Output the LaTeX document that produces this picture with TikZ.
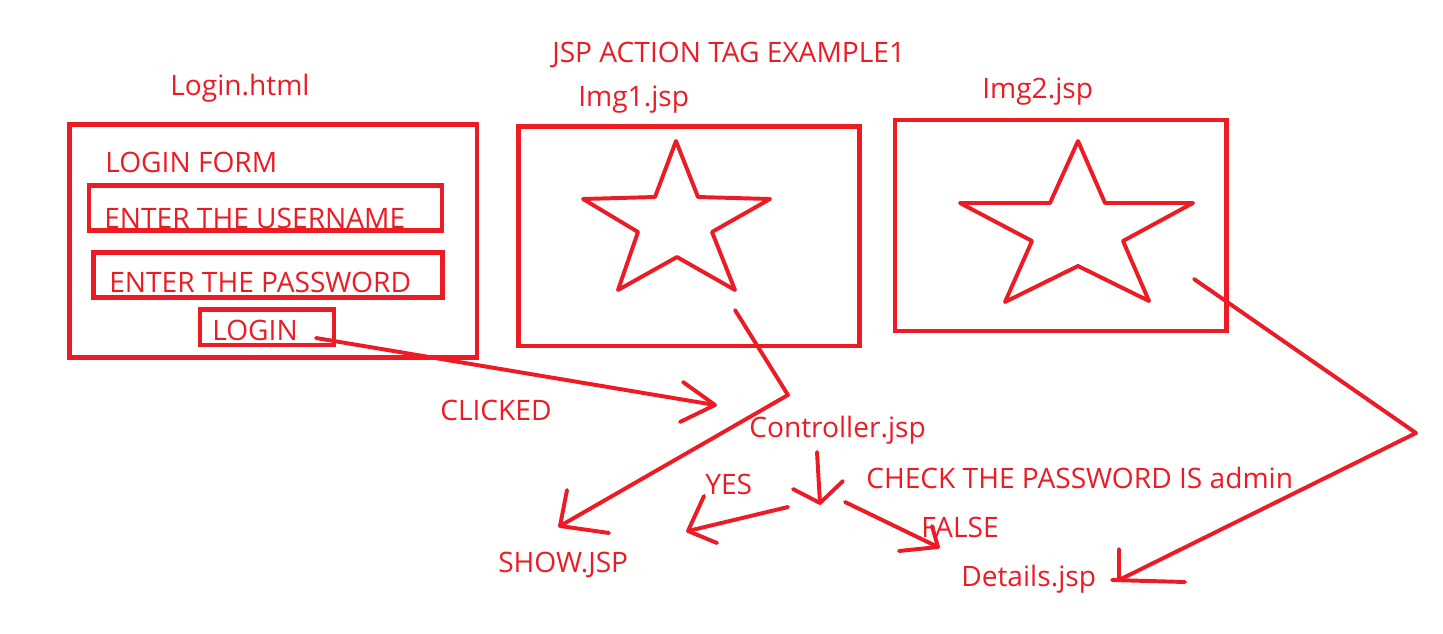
\documentclass[tikz,border=0pt]{standalone}
\usepackage{fontspec}
\setmainfont{Open Sans}
\usepackage{tikz}
\definecolor{paintred}{HTML}{ED1C24}
\tikzset{
  pen/.style={draw=paintred, line width=3.4pt},
  stroke/.style={draw=paintred, line width=2.8pt, line cap=round, line join=round},
  lbl/.style={text=paintred, font=\fontsize{20}{24}\selectfont, anchor=base west, inner sep=0pt}
}
\begin{document}
\begin{tikzpicture}[x=0.025cm, y=-0.025cm]
\useasboundingbox (0,0) rectangle (1443,633);

%Title
\node[lbl] (title) at (552,62) {JSP ACTION TAG EXAMPLE1};

%Login page
\node[lbl] (loginhtml) at (170,95) {Login.html};
\draw [pen] (69.5,124.5) rectangle (477,357.5);
\node[lbl] (loginform) at (105,172) {LOGIN FORM};
\draw [pen] (89,185.5) rectangle (442,230.5);
\node[lbl] (user) at (104,228) {ENTER THE USERNAME};
\draw [pen] (93.5,252.5) rectangle (442.5,297.5);
\node[lbl] (pass) at (109,292) {ENTER THE PASSWORD};
\draw [pen] (200,309.5) rectangle (334,345);
\node[lbl] (loginbtn) at (212,340) {LOGIN};

%Img1.jsp
\node[lbl] (imgone) at (578,106) {Img1.jsp};
\draw [pen] (518.5,126.5) rectangle (859.5,346);
\draw [stroke] (676,141) -- (698,197) -- (770,199) -- (712,232) -- (735,290)
  -- (677,257) -- (618,290) -- (638,232) -- (583,199) -- (655,197) -- cycle;

%Img2.jsp
\node[lbl] (imgtwo) at (982,98) {Img2.jsp};
\draw [pen] (895,120) rectangle (1226.5,331);
\draw [stroke] (1078,141) -- (1105,203) -- (1193,203) -- (1123,241) -- (1149,301)
  -- (1078,266) -- (1005,302) -- (1032,241) -- (960,203) -- (1050,203) -- cycle;

%Flow texts
\node[lbl] (clicked) at (440,420) {CLICKED};
\node[lbl] (controller) at (749,437) {Controller.jsp};
\node[lbl] (yes) at (705,494) {YES};
\node[lbl] (check) at (866,488) {CHECK THE PASSWORD IS admin};
\node[lbl] (false) at (921,537) {FALSE};
\node[lbl] (show) at (498,572) {SHOW.JSP};
\node[lbl] (details) at (961,586) {Details.jsp};

%Connectors
\coordinate (clickfrom) at (316,338);
\coordinate (clickto) at (715,405);
\draw [stroke] (clickfrom) -- (clickto);
\draw [stroke] (clickto) -- ++(-32,-23) (clickto) -- ++(-35,17);

\coordinate (imgonefrom) at (735,310);
\coordinate (imgonebend) at (788,395);
\coordinate (showto) at (560,526);
\draw [stroke] (imgonefrom) -- (imgonebend) -- (showto);
\draw [stroke] (showto) -- ++(7,-36) (showto) -- ++(49,7);

\coordinate (ctrlfrom) at (817,452);
\coordinate (ctrlto) at (820,503);
\draw [stroke] (ctrlfrom) -- (ctrlto);
\draw [stroke] (ctrlto) -- ++(-27,-14) (ctrlto) -- ++(23,-22);

\coordinate (yesfrom) at (788,507);
\coordinate (yesto) at (688,531);
\draw [stroke] (yesfrom) -- (yesto);
\draw [stroke] (yesto) -- ++(16,-35) (yesto) -- ++(29,12);

\coordinate (falsefrom) at (845,502);
\coordinate (falseto) at (938,547);
\draw [stroke] (falsefrom) -- (falseto);
\draw [stroke] (falseto) -- ++(-6,-21) (falseto) -- ++(-39,4);

\coordinate (imgtwofrom) at (1194,279);
\coordinate (imgtwobend) at (1416,433);
\coordinate (detailsto) at (1119,580);
\draw [stroke] (imgtwofrom) -- (imgtwobend) -- (detailsto);
\draw [stroke] (detailsto) -- ++(0,-31) (detailsto) ++(-7,0) -- ++(73,2);
\end{tikzpicture}
\end{document}
